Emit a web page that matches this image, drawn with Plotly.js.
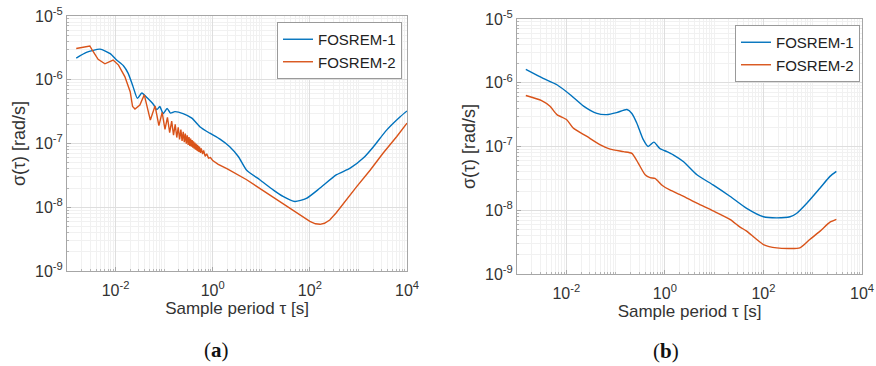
<!DOCTYPE html>
<html>
<head>
<meta charset="utf-8">
<script src="https://cdn.plot.ly/plotly-3.0.1.min.js"></script>
<style>html,body{margin:0;padding:0;background:#fff;}#chart{width:876px;height:366px;}</style>
</head>
<body>
<div id="chart"></div>
<script>
// ---------- data ----------
const seriesNames = ["FOSREM-1", "FOSREM-2"];
const panelLabels = ["a", "b"];
const xTitle = "Sample period τ [s]";
const yTitle = "σ(τ) [rad/s]";
const xTickVals = [0.01, 1, 100, 10000];
const xTickText = ["10<sup>-2</sup>", "10<sup>0</sup>", "10<sup>2</sup>", "10<sup>4</sup>"];
const yTickVals = [1e-9, 1e-8, 1e-7, 1e-6, 1e-5];
const yTickText = ["10<sup>-9</sup>", "10<sup>-8</sup>", "10<sup>-7</sup>", "10<sup>-6</sup>", "10<sup>-5</sup>"];

// Panel (a) FOSREM-1
const tauA1 = [0.00155,0.00251,0.00479,0.00776,0.0105,0.0145,0.0182,0.0229,0.0282,0.0347,0.0447,0.0603,0.0708,0.0813,0.0955,0.115,0.135,0.166,0.245,0.372,0.55,0.87,1.41,2.24,3.39,5.0,9.3,17.8,28,49,85,162,355,676,1259,2040,3800,7244,10000];
const sigA1 = [2.19e-6,2.69e-6,3.02e-6,2.57e-6,2.04e-6,1.66e-6,1.26e-6,7.8e-7,5.1e-7,6.2e-7,5.2e-7,4.1e-7,3.4e-7,3.8e-7,2.95e-7,3.55e-7,3.0e-7,3.16e-7,2.95e-7,2.5e-7,1.82e-7,1.45e-7,1.17e-7,8.9e-8,6.2e-8,3.8e-8,2.7e-8,1.86e-8,1.48e-8,1.23e-8,1.38e-8,2.0e-8,3.24e-8,4.1e-8,5.9e-8,8.9e-8,1.62e-7,2.63e-7,3.24e-7];

// Panel (a) FOSREM-2
const tauA2 = [0.00155,0.00295,0.00347,0.00437,0.00603,0.0089,0.0115,0.0155,0.020,0.0224,0.0251,0.0316,
  0.039,0.052,0.065,0.078,0.091,0.104,0.117,0.130,0.143,0.156,0.169,0.182,0.195,0.208,0.221,0.234,0.247,0.260,0.273,0.286,0.299,0.312,0.325,0.338,0.351,0.364,0.377,0.390,0.403,0.416,0.429,0.442,0.455,0.468,0.481,0.494,0.507,0.520,0.533,0.56,0.58,0.62,0.65,0.70,0.75,0.82,0.90,
  1.0,1.3,2.0,5.0,15,30,49,75,100,130,162,200,257,350,490,912,1738,3236,6166,10000];
const sigA2 = [3.09e-6,3.39e-6,2.75e-6,2.09e-6,1.78e-6,2.04e-6,1.70e-6,1.12e-6,6.5e-7,3.8e-7,3.47e-7,4.0e-7,
  5.8e-7,2.33e-7,3.89e-7,1.91e-7,3.07e-7,1.66e-7,2.57e-7,1.48e-7,2.24e-7,1.35e-7,2.0e-7,1.24e-7,1.80e-7,1.16e-7,1.65e-7,1.10e-7,1.53e-7,1.05e-7,1.43e-7,9.9e-8,1.34e-7,9.5e-8,1.26e-7,9.2e-8,1.19e-7,8.9e-8,1.13e-7,8.6e-8,1.08e-7,8.3e-8,1.03e-7,8.0e-8,9.9e-8,7.8e-8,9.5e-8,7.6e-8,9.2e-8,7.4e-8,8.9e-8,7.1e-8,8.4e-8,6.8e-8,7.8e-8,6.3e-8,6.9e-8,5.9e-8,6.0e-8,
  5.4e-8,4.7e-8,4.0e-8,2.7e-8,1.55e-8,1.1e-8,8.5e-9,6.9e-9,6.0e-9,5.5e-9,5.4e-9,5.6e-9,6.3e-9,8.2e-9,1.15e-8,2.09e-8,3.8e-8,7.1e-8,1.29e-7,2.09e-7];

// Panel (b) FOSREM-1
const tauB1 = [0.00151,0.00339,0.00646,0.0120,0.0224,0.0417,0.066,0.105,0.17,0.214,0.269,0.363,0.457,0.60,0.79,1.10,1.48,2.4,4.47,9.5,20.9,45.7,100,186,347,468,759,1413,2239,3020];
const sigB1 = [1.62e-6,1.17e-6,9.3e-7,6.5e-7,4.3e-7,3.3e-7,3.16e-7,3.4e-7,3.8e-7,3.3e-7,2.34e-7,1.29e-7,1.0e-7,1.17e-7,9.3e-8,8.3e-8,7.4e-8,5.75e-8,3.6e-8,2.5e-8,1.66e-8,1.07e-8,7.9e-9,7.6e-9,7.9e-9,8.9e-9,1.29e-8,2.24e-8,3.4e-8,4.07e-8];

// Panel (b) FOSREM-2
const tauB2 = [0.00151,0.00316,0.00468,0.00646,0.0102,0.0138,0.0257,0.0479,0.0776,0.145,0.214,0.288,0.398,0.50,0.63,0.89,1.26,2.24,4.47,9.5,20.9,33,45.7,100,186,550,871,1413,2239,3020];
const sigB2 = [6.3e-7,5.25e-7,4.27e-7,3.16e-7,2.63e-7,1.95e-7,1.45e-7,1.07e-7,9.1e-8,8.3e-8,7.8e-8,5.5e-8,3.6e-8,3.24e-8,3.16e-8,2.45e-8,2.09e-8,1.7e-8,1.29e-8,9.8e-9,7.2e-9,5.5e-9,4.7e-9,2.9e-9,2.57e-9,2.57e-9,3.47e-9,4.7e-9,6.5e-9,7.2e-9];

// ---------- styling ----------
const C1 = "#0072BD", C2 = "#D95319";
const FONT = "Liberation Sans, Arial, sans-serif";
const W = 876, H = 366;

function line(x, y, name, color, xa, ya, leg, shape) {
  return {x: x, y: y, name: name, type: "scatter", mode: "lines",
    line: {color: color, width: 1.4, shape: shape || "linear", smoothing: 0.6},
    xaxis: xa, yaxis: ya, legend: leg};
}
const traces = [
  line(tauA1, sigA1, seriesNames[0], C1, "x", "y", "legend", "spline"),
  line(tauA2, sigA2, seriesNames[1], C2, "x", "y", "legend"),
  line(tauB1, sigB1, seriesNames[0], C1, "x2", "y2", "legend2", "spline"),
  line(tauB2, sigB2, seriesNames[1], C2, "x2", "y2", "legend2", "spline")
];

const common = {type: "log", showline: true, mirror: true,
  linecolor: "#a6a6a6", linewidth: 1, ticks: "inside", ticklen: 4, tickcolor: "#a6a6a6",
  showgrid: true, gridcolor: "#dedede", gridwidth: 1, zeroline: false,
  minor: {tickmode: "linear", dtick: "D1", showgrid: true, gridcolor: "#f1f1f1", ticks: "inside", ticklen: 2, tickcolor: "#b5b5b5"},
  tickfont: {family: FONT, size: 16, color: "#333"}, tickmode: "array", automargin: false};

function xax(d, anchor) {
  return Object.assign({}, common, {domain: d, anchor: anchor, range: [-3, 4],
    tickvals: xTickVals, ticktext: xTickText, ticklabelstandoff: 5,
    title: {text: xTitle, font: {family: FONT, size: 17, color: "#333"}, standoff: 3}});
}
function yax(d, anchor) {
  return Object.assign({}, common, {domain: d, anchor: anchor, range: [-9, -5],
    tickvals: yTickVals, ticktext: yTickText,
    title: {text: yTitle, font: {family: FONT, size: 18, color: "#333"}, standoff: 4}});
}
const legStyle = {bgcolor: "#fff", bordercolor: "#9a9a9a", borderwidth: 1,
  font: {family: FONT, size: 15, color: "#222"}, xanchor: "right", yanchor: "top",
  itemwidth: 30, tracegroupgap: 0};

const layout = {
  width: W, height: H, margin: {l: 0, r: 0, t: 0, b: 0},
  paper_bgcolor: "#fff", plot_bgcolor: "#fff", showlegend: true,
  xaxis: xax([67 / W, 407 / W], "y"),
  yaxis: yax([1 - 271 / H, 1 - 16 / H], "x"),
  xaxis2: xax([517 / W, 862 / W], "y2"),
  yaxis2: yax([1 - 274 / H, 1 - 19 / H], "x2"),
  legend: Object.assign({x: 402 / W, y: 1 - 22 / H}, legStyle),
  legend2: Object.assign({x: 860 / W, y: 1 - 25 / H}, legStyle),
  annotations: [
    {text: "(<b>" + panelLabels[0] + "</b>)", xref: "paper", yref: "paper", x: 216 / W, y: 1 - 350 / H,
     xanchor: "center", yanchor: "middle", showarrow: false,
     font: {family: "Liberation Serif, serif", size: 21, color: "#111"}},
    {text: "(<b>" + panelLabels[1] + "</b>)", xref: "paper", yref: "paper", x: 666 / W, y: 1 - 351 / H,
     xanchor: "center", yanchor: "middle", showarrow: false,
     font: {family: "Liberation Serif, serif", size: 21, color: "#111"}}
  ]
};
Plotly.newPlot("chart", traces, layout, {staticPlot: true, displayModeBar: false});
</script>
</body>
</html>
